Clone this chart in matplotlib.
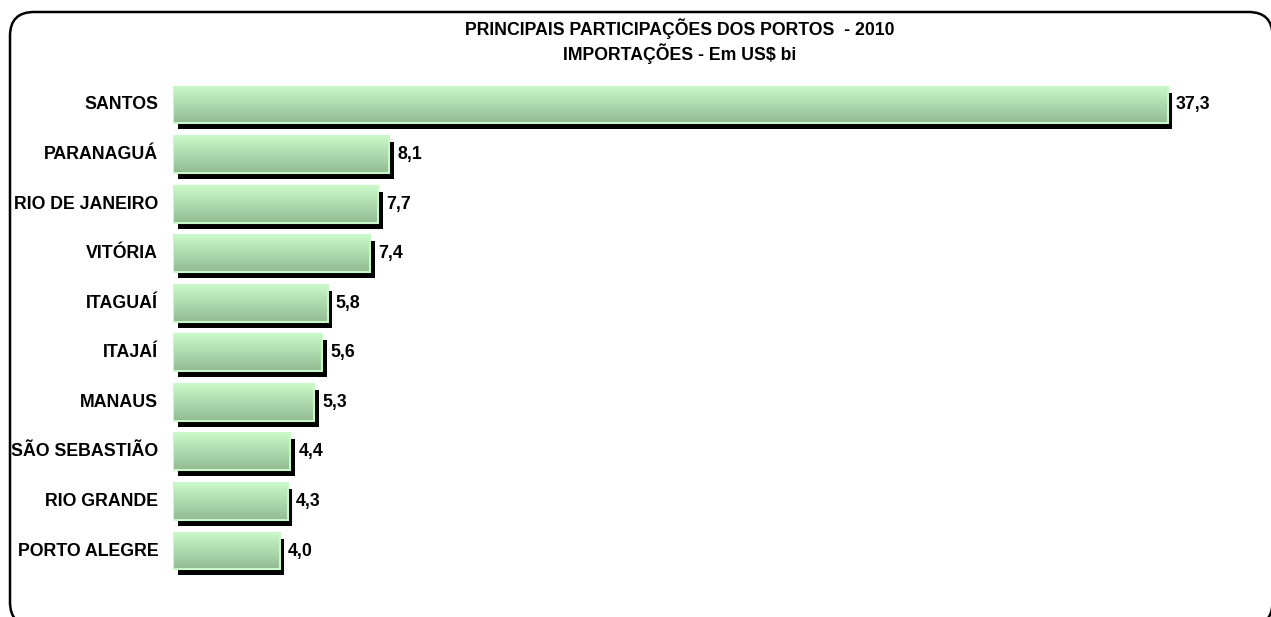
import numpy as np
import matplotlib
matplotlib.use('Agg')
import matplotlib.pyplot as plt
from matplotlib.patches import Rectangle, FancyBboxPatch
from matplotlib.colors import LinearSegmentedColormap
import matplotlib.transforms as mtransforms

plt.rcParams['font.family'] = ['Liberation Sans', 'DejaVu Sans']

# data
ports = ['SANTOS', 'PARANAGUÁ', 'RIO DE JANEIRO', 'VITÓRIA', 'ITAGUAÍ',
         'ITAJAÍ', 'MANAUS', 'SÃO SEBASTIÃO', 'RIO GRANDE', 'PORTO ALEGRE']
values = [37.3, 8.1, 7.7, 7.4, 5.8, 5.6, 5.3, 4.4, 4.3, 4.0]
title = 'PRINCIPAIS PARTICIPAÇÕES DOS PORTOS  - 2010\nIMPORTAÇÕES - Em US$ bi'

W, H = 1271, 617
fig = plt.figure(figsize=(W / 100, H / 100), dpi=100)

# rounded frame around the whole chart (pixel coords), partly off the image
bg = fig.add_axes([0, 0, 1, 1])
bg.set_xlim(0, W)
bg.set_ylim(H, 0)
bg.axis('off')
frame = FancyBboxPatch((10, 12), 1262.5, 614,
                       boxstyle='round,pad=0,rounding_size=24',
                       fc='white', ec='black', lw=1.8, clip_on=False)
bg.add_patch(frame)

ax = fig.add_axes([173 / W, 1 - 575.8 / H, 1067 / W, (575.8 - 80.2) / H])
ax.set_xlim(0, 40)
ax.set_ylim(len(ports) - 0.5, -0.5)
ax.axis('off')

cmap = LinearSegmentedColormap.from_list('g', ['#c9f8c9', '#93bb93'])
grad = np.linspace(0, 1, 64).reshape(-1, 1)
bh = 0.745

shadow_tr = mtransforms.offset_copy(ax.transData, fig=fig, x=4.5, y=-6, units='dots')

for i, (name, v) in enumerate(zip(ports, values)):
    y0 = i - bh / 2
    ax.add_patch(Rectangle((0, y0), v, bh, fc='black', ec='none',
                           transform=shadow_tr, zorder=1))
    ax.imshow(grad, cmap=cmap, aspect='auto', extent=(0, v, y0 + bh, y0),
              zorder=2, interpolation='bilinear')
    ax.add_patch(Rectangle((0, y0), v, bh, fc='none', ec='#c8f8c8',
                           lw=1.5, zorder=3))
    ax.text(v + 0.3, i, ('%.1f' % v).replace('.', ','), ha='left', va='center',
            fontsize=12.8, fontweight='bold', zorder=4)
    ax.text(-0.55, i, name, ha='right', va='center', fontsize=12.8,
            fontweight='bold', zorder=4)

ax.set_xlim(0, 40)
ax.set_ylim(len(ports) - 0.5, -0.5)

fig.text(680 / W, 1 - 41 / H, title, ha='center', va='center',
         fontsize=12.7, fontweight='bold', linespacing=1.25)

fig.savefig('out.png', dpi=100)
